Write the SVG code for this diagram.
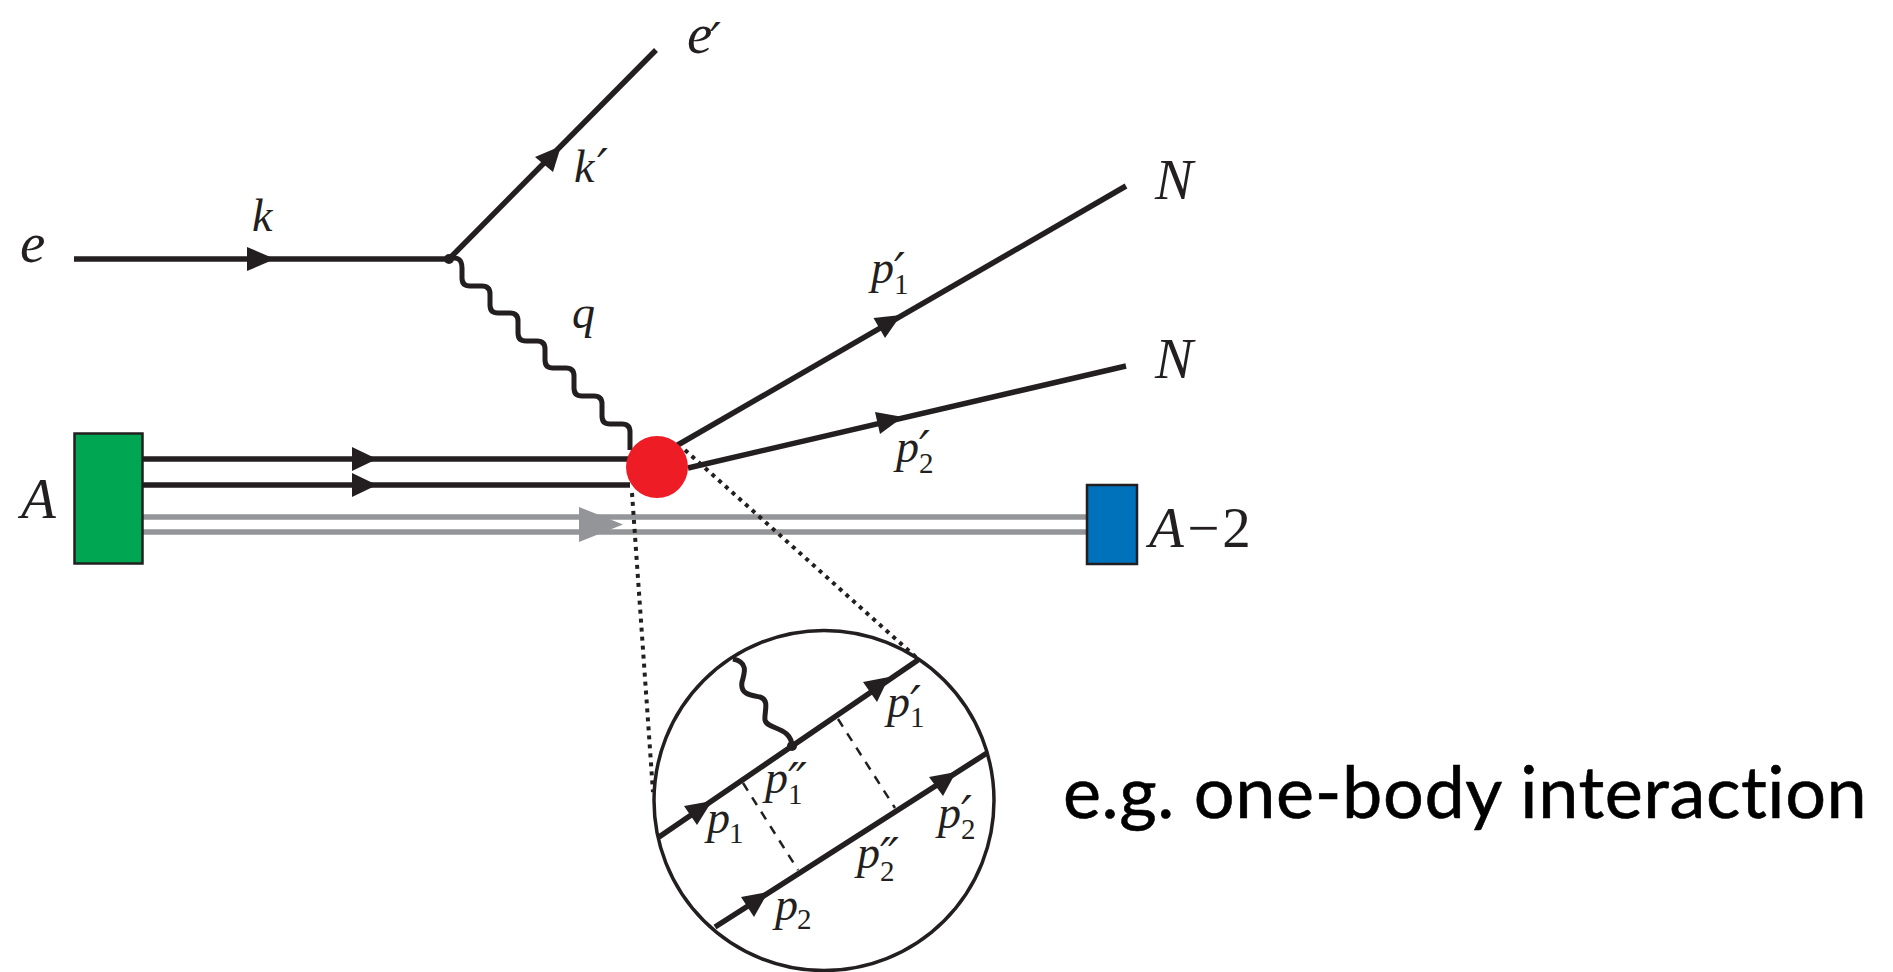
<svg xmlns="http://www.w3.org/2000/svg" width="1893" height="972" viewBox="0 0 1893 972">
<style>
.l{fill:none;stroke:#231f20;stroke-width:5.5}
.g{fill:none;stroke:#939598;stroke-width:5.5}
.w{fill:none;stroke:#231f20;stroke-width:5;stroke-linejoin:round}
.dot{fill:none;stroke:#231f20;stroke-width:4;stroke-dasharray:4 5}
.dash{fill:none;stroke:#231f20;stroke-width:2.500;stroke-dasharray:9 8}
.a{fill:#231f20}
.m{font-family:"Liberation Serif",serif;font-style:italic;fill:#231f20}
.b{font-size:57px}.c{font-size:46px}.s{font-size:29px;font-style:normal}
.r{font-family:"DejaVu Sans",sans-serif;font-size:48px;font-style:italic;letter-spacing:-3px}
.t{font-family:Lato,"Liberation Sans",sans-serif;font-size:72px;fill:#000;stroke:#000;stroke-width:.6;font-variant-ligatures:none;letter-spacing:.6px}
</style>
<rect width="1893" height="972" fill="#fff"/>
<g id="connectors">
<path class="l" d="M74 259H449"/>
<path class="a" d="M275 259L247 247V271Z"/>
<path class="l" d="M449 259L656 50"/>
<path class="a" d="M561 146L535 157L553 172Z"/>
<path class="w" d="M449 259Q462 255 462 268V278Q462 286 470 286H482Q490 286 490 294V305Q490 313 498 313H510Q518 313 518 321V333Q518 341 526 341H537Q545 341 545 349V360Q545 368 553 368H566Q574 368 574 376V388Q574 396 582 396H594Q602 396 602 404V416Q602 424 610 424H622Q630 424 630 432V450"/>
<path class="l" d="M143 459H630M143 485H630"/>
<path class="a" d="M377 459L352 447V471ZM377 485L352 473V497Z"/>
<path class="g" d="M143 517H1087M143 532H1087"/>
<path fill="#939598" d="M623 524.500L579 507V542Z"/>
<path class="l" d="M676 446L1126 186"/>
<path class="a" d="M901 315L873.500 318L885 338Z"/>
<path class="l" d="M688 468L1126 366"/>
<path class="a" d="M903 417L875 412L880 434Z"/>
<path class="dot" d="M632 493L653 792"/>
<path class="dot" d="M685 450L918 659"/>
</g>
<g id="node-A"><rect x="74.500" y="433.500" width="68" height="130" fill="#00a651" stroke="#231f20" stroke-width="2.500"/></g>
<g id="node-A-2"><rect x="1087" y="485" width="50" height="79" fill="#0072bc" stroke="#231f20" stroke-width="2.500"/></g>
<g id="node-blob"><circle cx="657" cy="467" r="31" fill="#ee1c25"/></g>
<g id="node-vertex"><circle cx="449" cy="259" r="5" class="a"/></g>
<g id="node-zoom">
<circle cx="824" cy="800.500" r="170" fill="none" stroke="#231f20" stroke-width="3.500"/>
<path class="l" d="M659 837L918 660M715 927L987 753"/>
<path class="a" d="M712 801L684 806L697 825ZM889 677L863 682L877 702ZM768 892L741 897L754 917ZM956 772L929 777L943 796Z"/>
<path class="dash" d="M743 783L798 870M838 719L895 808"/>
<path class="w" d="M733 659C748 662 745 672 742 682C740 694 750 695 760 697C770 700 764 712 765 720C767 730 792 726 792 747"/>
<circle cx="792" cy="746" r="5" class="a"/>
</g>
<g id="labels">
<text class="m b" x="20" y="262">e</text>
<text class="m b" x="687" y="53">e<tspan class="r" x="710" y="57">′</tspan></text>
<text class="m c" x="252" y="231">k</text>
<text class="m c" x="574" y="182">k<tspan class="r" x="597" y="183">′</tspan></text>
<text class="m c" x="572" y="328">q</text>
<text class="m b" x="1155" y="199">N</text>
<text class="m b" x="1155" y="378">N</text>
<text class="m b" x="21" y="518">A</text>
<text class="m b" x="1149" y="547">A−<tspan style="font-style:normal">2</tspan></text>
<text class="m c" x="871" y="283">p<tspan class="r" x="894" y="287">′</tspan><tspan class="s" x="894" y="294">1</tspan></text>
<text class="m c" x="896" y="462">p<tspan class="r" x="919" y="465">′</tspan><tspan class="s" x="919" y="473">2</tspan></text>
<text class="m c" x="887" y="717">p<tspan class="r" x="910" y="720">′</tspan><tspan class="s" x="910" y="727">1</tspan></text>
<text class="m c" x="765" y="793">p<tspan class="r" x="788" y="797">′′</tspan><tspan class="s" x="788" y="804">1</tspan></text>
<text class="m c" x="707" y="833">p<tspan class="s" x="729" y="843">1</tspan></text>
<text class="m c" x="775" y="920">p<tspan class="s" x="797" y="929">2</tspan></text>
<text class="m c" x="938" y="828">p<tspan class="r" x="961" y="830">′</tspan><tspan class="s" x="961" y="839">2</tspan></text>
<text class="m c" x="857" y="868">p<tspan class="r" x="880" y="872">′′</tspan><tspan class="s" x="880" y="881">2</tspan></text>
<text class="t" x="1063" y="818">e.g. one-body interaction</text>
</g>
</svg>
